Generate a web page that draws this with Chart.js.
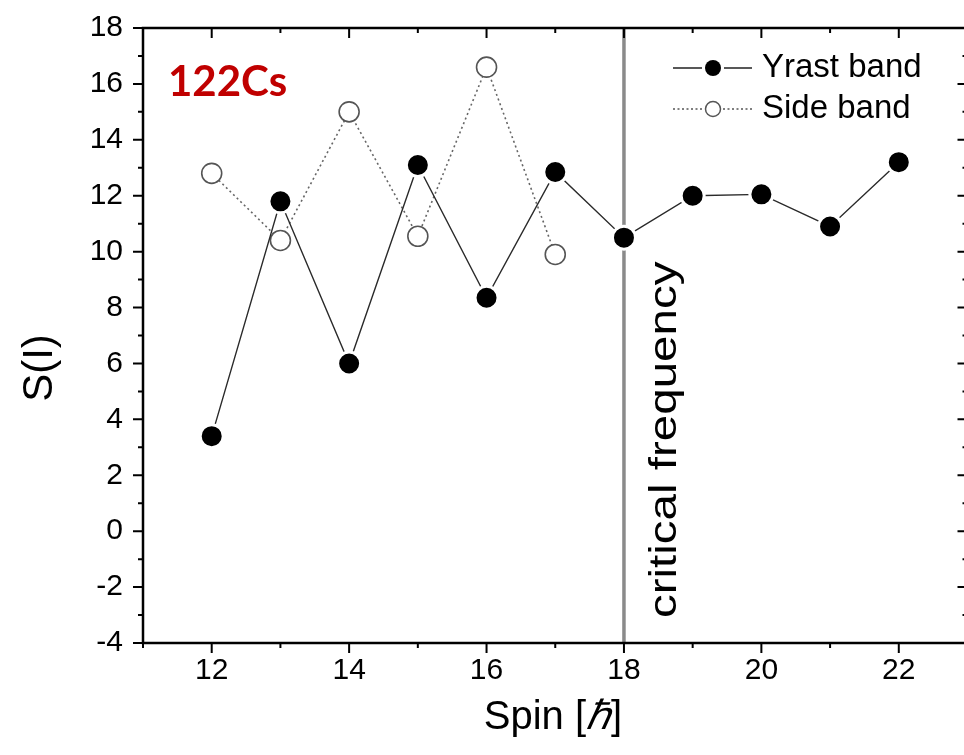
<!DOCTYPE html>
<html>
<head>
<meta charset="utf-8">
<script src="https://cdn.jsdelivr.net/npm/chart.js@4.4.1/dist/chart.umd.min.js"></script>
<style>
  html, body { margin: 0; padding: 0; background: #fff; overflow: hidden; }
  #wrap { width: 982px; height: 755px; }
</style>
</head>
<body>
<div id="wrap"><canvas id="chart" width="982" height="755"></canvas></div>
<script>
// data
const yrastSpin = [12, 13, 14, 15, 16, 17, 18, 19, 20, 21, 22]
const yrastS = [3.4, 11.8, 6.0, 13.1, 8.35, 12.85, 10.5, 12.0, 12.05, 10.9, 13.2]
const sideSpin = [12, 13, 14, 15, 16, 17]
const sideS = [12.8, 10.4, 15.0, 10.55, 16.6, 9.9]
const criticalSpin = 18
const xRange = [11, 23]
const yRange = [-4, 18]

const FONT = "'Liberation Sans', Arial, sans-serif"

// axes frame, ticks, titles and annotations drawn on top of Chart.js scales
const framePlugin = {
  id: "frame",
  beforeDatasetsDraw(chart) {
    const { ctx, chartArea: a, scales } = chart
    const x = scales.x.getPixelForValue(criticalSpin)
    ctx.save()
    ctx.strokeStyle = "#8a8a8a"
    ctx.lineWidth = 3.5
    ctx.beginPath()
    ctx.moveTo(x, a.top)
    ctx.lineTo(x, a.bottom)
    ctx.stroke()

    // rotated label
    ctx.translate(x + 42, a.bottom - 25)
    ctx.rotate(-Math.PI / 2)
    ctx.scale(1.25, 1)
    ctx.fillStyle = "#000"
    ctx.font = "38px " + FONT
    ctx.textAlign = "left"
    ctx.textBaseline = "middle"
    ctx.fillText("critical frequency", 0, 0)
    ctx.restore()
  },
  afterDraw(chart) {
    const { ctx, chartArea: a, scales } = chart
    const xs = scales.x, ys = scales.y
    ctx.save()
    ctx.strokeStyle = "#000"
    ctx.lineWidth = 2.5
    ctx.strokeRect(a.left, a.top, a.right - a.left, a.bottom - a.top)

    ctx.lineWidth = 2
    ctx.beginPath()
    for (let v = xRange[0]; v <= xRange[1]; v++) {
      const px = xs.getPixelForValue(v)
      const len = v % 2 === 0 ? 10 : 5
      ctx.moveTo(px, a.bottom); ctx.lineTo(px, a.bottom + len)
      ctx.moveTo(px, a.top); ctx.lineTo(px, a.top + len)
    }
    for (let v = yRange[0]; v <= yRange[1]; v++) {
      const py = ys.getPixelForValue(v)
      const len = v % 2 === 0 ? 10 : 5
      ctx.moveTo(a.left, py); ctx.lineTo(a.left - len, py)
      ctx.moveTo(a.right, py); ctx.lineTo(a.right - len, py)
    }
    ctx.stroke()

    // axis titles
    ctx.fillStyle = "#000"
    ctx.font = "40px " + FONT
    ctx.textBaseline = "middle"
    ctx.textAlign = "left"
    const head = "Spin [", hbar = "ℏ", tail = "]"
    const w1 = ctx.measureText(head).width
    ctx.font = "italic 40px " + FONT
    const w2 = ctx.measureText(hbar).width
    ctx.font = "40px " + FONT
    const w3 = ctx.measureText(tail).width
    let tx = 553 - (w1 + w2 + w3) / 2
    ctx.fillText(head, tx, 718)
    ctx.font = "italic 40px " + FONT
    ctx.fillText(hbar, tx + w1, 718)
    ctx.font = "40px " + FONT
    ctx.fillText(tail, tx + w1 + w2, 718)

    ctx.textAlign = "center"
    ctx.save()
    ctx.translate(40, 368)
    ctx.rotate(-Math.PI / 2)
    ctx.font = "42px " + FONT
    ctx.fillText("S(I)", 0, 0)
    ctx.restore()

    // nucleus tag
    ctx.fillStyle = "#c00000"
    ctx.font = "bold 42px Lato, " + FONT
    ctx.textAlign = "left"
    ctx.fillText("122Cs", 168, 82)

    // legend
    const lx0 = 673, lx1 = 752, lmx = 713
    ctx.font = "33px " + FONT
    ctx.fillStyle = "#000"
    ctx.fillText("Yrast band", 762, 68)
    ctx.fillText("Side band", 762, 109)

    ctx.strokeStyle = "#222"
    ctx.lineWidth = 1.3
    ctx.beginPath()
    ctx.moveTo(lx0, 68); ctx.lineTo(lmx - 11, 68)
    ctx.moveTo(lmx + 11, 68); ctx.lineTo(lx1, 68)
    ctx.stroke()
    ctx.fillStyle = "#000"
    ctx.beginPath(); ctx.arc(lmx, 68, 8, 0, Math.PI * 2); ctx.fill()

    ctx.strokeStyle = "#555"
    ctx.setLineDash([2, 2.5])
    ctx.beginPath()
    ctx.moveTo(lx0, 109); ctx.lineTo(lmx - 10, 109)
    ctx.moveTo(lmx + 10, 109); ctx.lineTo(lx1, 109)
    ctx.stroke()
    ctx.setLineDash([])
    ctx.fillStyle = "#fff"
    ctx.lineWidth = 1.5
    ctx.beginPath(); ctx.arc(lmx, 109, 7.5, 0, Math.PI * 2); ctx.fill(); ctx.stroke()
    ctx.restore()
  }
}

const evenOnly = (v) => (Math.round(v) % 2 === 0 ? String(v) : "")

new Chart(document.getElementById("chart"), {
  type: "scatter",
  data: {
    datasets: [
      {
        label: "Yrast band",
        data: yrastSpin.map((s, i) => ({ x: s, y: yrastS[i] })),
        showLine: true,
        borderColor: "#2a2a2a",
        borderWidth: 1.4,
        pointRadius: 11.5,
        pointBackgroundColor: "#000",
        pointBorderColor: "#fff",
        pointBorderWidth: 3,
      },
      {
        label: "Side band",
        data: sideSpin.map((s, i) => ({ x: s, y: sideS[i] })),
        showLine: true,
        borderColor: "#666",
        borderWidth: 1.6,
        borderDash: [2, 3],
        pointRadius: 10,
        pointBackgroundColor: "#fff",
        pointBorderColor: "#555",
        pointBorderWidth: 1.6,
      },
    ],
  },
  options: {
    responsive: false,
    animation: false,
    layout: { padding: { left: 0, top: 28, right: 5, bottom: 0 } },
    plugins: { legend: { display: false }, tooltip: { enabled: false } },
    elements: { point: { hoverRadius: 10 } },
    scales: {
      x: {
        type: "linear",
        min: xRange[0],
        max: xRange[1],
        afterFit: (s) => { s.height = 112; s.paddingLeft = 0; s.paddingRight = 0 },
        grid: { display: false, drawTicks: false },
        border: { display: false },
        ticks: {
          stepSize: 1,
          autoSkip: false,
          maxRotation: 0,
          padding: 10,
          color: "#000",
          font: { family: FONT, size: 30 },
          callback: evenOnly,
        },
      },
      y: {
        min: yRange[0],
        max: yRange[1],
        afterFit: (s) => { s.width = 143; s.paddingTop = 0; s.paddingBottom = 0 },
        grid: { display: false, drawTicks: false },
        border: { display: false },
        ticks: {
          stepSize: 1,
          autoSkip: false,
          padding: 20,
          color: "#000",
          font: { family: FONT, size: 30 },
          callback: evenOnly,
        },
      },
    },
  },
  plugins: [framePlugin],
})
</script>
</body>
</html>
